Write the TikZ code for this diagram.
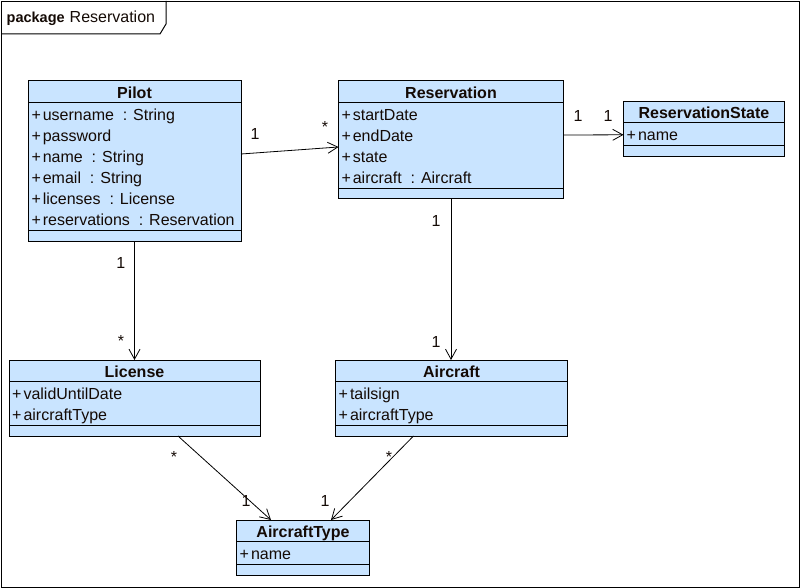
\documentclass[tikz,border=0pt]{standalone}
\usepackage{fontspec}
\setmainfont{Liberation Sans}
\usetikzlibrary{arrows.meta}
\definecolor{clsfill}{RGB}{201,228,255}
\definecolor{txt}{RGB}{20,10,5}
\begin{document}
\begin{tikzpicture}[x=1pt,y=-1pt,
  classbox/.style={draw=black, fill=clsfill, line width=1pt, anchor=north west, inner sep=0pt, outer sep=0pt},
  ctitle/.style={font=\fontsize{16}{19}\selectfont\bfseries, text=txt, anchor=base, inner sep=0pt},
  cattr/.style={font=\fontsize{16}{19}\selectfont, text=txt, anchor=base west, inner sep=0pt},
  mult/.style={font=\fontsize{16}{19}\selectfont, text=txt, anchor=base, inner sep=0pt},
  sepline/.style={line width=1pt},
  assoc/.style={line width=0.8pt, -{Straight Barb[length=10pt,width=11pt,line width=0.8pt]}}]
\useasboundingbox (0,0) rectangle (800,588);
% frame
\node[draw, line width=1pt, minimum width=798pt, minimum height=586pt, anchor=north west, inner sep=0pt] (frame) at (1,1) {};
\draw[line width=1pt] (1,34) -- (160,34) -- (166,24) -- (166,1);
\node[anchor=base west, inner sep=0pt, font=\fontsize{14.5}{16}\selectfont\bfseries, text=txt] (pkgkw) at (6.5,22.3) {package};
\node[anchor=base west, inner sep=0pt, font=\fontsize{16}{19}\selectfont, text=txt] (pkgname) at (69.5,22.3) {Reservation};

\newcommand{\attrline}[3]{\node[cattr] at (#1,#2) {+\kern2pt #3};}

% Pilot
\node[classbox, minimum width=213pt, minimum height=160pt] (pilot) at (28,81) {};
\node[ctitle] (pilotT) at (134.5,98.2) {Pilot};
\draw[sepline] (28,102.5) -- (241,102.5);
\attrline{31.3}{120.2}{username\ \ : String}
\attrline{31.3}{141.2}{password}
\attrline{31.3}{162.2}{name\ \ : String}
\attrline{31.3}{183.2}{email\ \ : String}
\attrline{31.3}{204.2}{licenses\ \ : License}
\attrline{31.3}{225.2}{reservations\ \ : Reservation}
\draw[sepline] (28,230.3) -- (241,230.3);

% Reservation
\node[classbox, minimum width=225pt, minimum height=118pt] (res) at (338.5,81) {};
\node[ctitle] (resT) at (451,98.2) {Reservation};
\draw[sepline] (338.5,102.5) -- (563.5,102.5);
\attrline{341.3}{120.2}{startDate}
\attrline{341.3}{141.2}{endDate}
\attrline{341.3}{162.2}{state}
\attrline{341.3}{183.2}{aircraft\ \ : Aircraft}
\draw[sepline] (338.5,188.3) -- (563.5,188.3);

% ReservationState
\node[classbox, minimum width=161pt, minimum height=55pt] (rs) at (623.5,101.5) {};
\node[ctitle] (rsT) at (704,118.9) {ReservationState};
\draw[sepline] (623.5,123) -- (784.5,123);
\attrline{626.5}{140.9}{name}
\draw[sepline] (623.5,146) -- (784.5,146);

% License
\node[classbox, minimum width=251pt, minimum height=76pt] (lic) at (9,360) {};
\node[ctitle] (licT) at (134.5,377.2) {License};
\draw[sepline] (9,381.5) -- (260,381.5);
\attrline{12}{399.2}{validUntilDate}
\attrline{12}{420.2}{aircraftType}
\draw[sepline] (9,425.3) -- (260,425.3);

% Aircraft
\node[classbox, minimum width=232pt, minimum height=76pt] (air) at (335.5,360) {};
\node[ctitle] (airT) at (451.5,377.2) {Aircraft};
\draw[sepline] (335.5,381.5) -- (567.5,381.5);
\attrline{338.5}{399.2}{tailsign}
\attrline{338.5}{420.2}{aircraftType}
\draw[sepline] (335.5,425.3) -- (567.5,425.3);

% AircraftType
\node[classbox, minimum width=133pt, minimum height=55pt] (at) at (236.5,520) {};
\node[ctitle] (atT) at (303,537.2) {AircraftType};
\draw[sepline] (236.5,541.5) -- (369.5,541.5);
\attrline{239.5}{559.2}{name}
\draw[sepline] (236.5,564.3) -- (369.5,564.3);

% connectors
\draw[assoc] ([yshift=7pt]pilot.east) -- ([yshift=-7pt]res.west);
\draw[assoc] ([yshift=5pt]res.east) -- ([yshift=-5.8pt]rs.west);
\draw[assoc] (pilot.south) -- (lic.north);
\draw[assoc] (res.south) -- (res.south |- air.north);
\draw[assoc] ([xshift=43.5pt]lic.south) -- ([xshift=-32pt]at.north);
\draw[assoc] ([xshift=-38pt]air.south) -- ([xshift=28pt]at.north);

% multiplicities
\node[mult] (m1) at (255,139.5) {1};
\node[mult] (m2) at (325,132.5) {*};
\node[mult] (m3) at (578,121.5) {1};
\node[mult] (m4) at (608,121.5) {1};
\node[mult] (m5) at (120.7,268) {1};
\node[mult] (m6) at (121,346.5) {*};
\node[mult] (m7) at (436,226.2) {1};
\node[mult] (m8) at (436,347) {1};
\node[mult] (m9) at (174,462.5) {*};
\node[mult] (m10) at (246,506.2) {1};
\node[mult] (m11) at (389,462.5) {*};
\node[mult] (m12) at (325,506.2) {1};
\end{tikzpicture}
\end{document}
